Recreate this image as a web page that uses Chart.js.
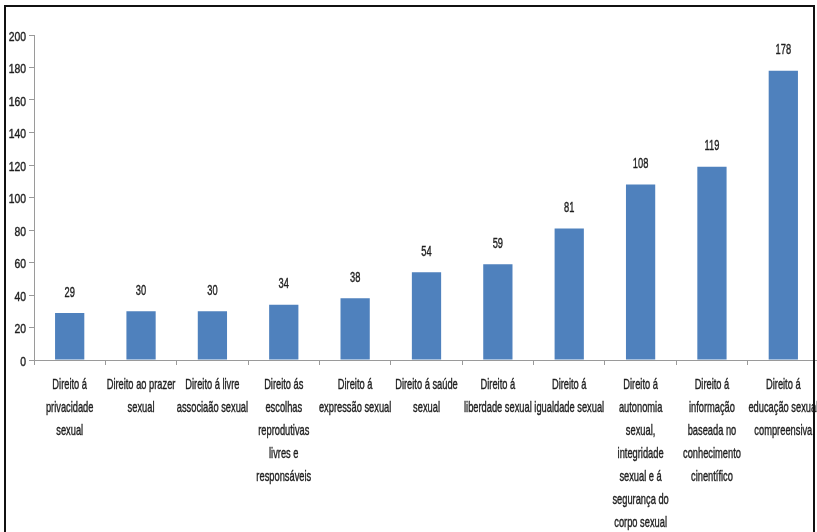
<!DOCTYPE html>
<html>
<head>
<meta charset="utf-8">
<script src="https://cdn.jsdelivr.net/npm/chart.js@4"></script>
<style>
  html, body { margin: 0; padding: 0; background: #fff; overflow: hidden; }
  #wrap { position: relative; width: 817px; height: 532px; overflow: hidden; }
  #frame { position: absolute; left: 4px; top: 5px; width: 807px; height: 540px; border: 2px solid #111; border-bottom: none; }
  #chart { position: absolute; left: 0; top: 0; }
</style>
</head>
<body>
<div id="wrap">
  <canvas id="chart" width="819" height="532"></canvas>
  <div id="frame"></div>
</div>
<script>
const categories = [
  ['Direito á', 'privacidade', 'sexual'],
  ['Direito ao prazer', 'sexual'],
  ['Direito á livre', 'associaão sexual'],
  ['Direito ás', 'escolhas', 'reprodutivas', 'livres e', 'responsáveis'],
  ['Direito á', 'expressão sexual'],
  ['Direito á saúde', 'sexual'],
  ['Direito á', 'liberdade sexual'],
  ['Direito á', 'igualdade sexual'],
  ['Direito á', 'autonomia', 'sexual,', 'integridade', 'sexual e á', 'segurança do', 'corpo sexual'],
  ['Direito á', 'informação', 'baseada no', 'conhecimento', 'cinentífico'],
  ['Direito á', 'educação sexual', 'compreensiva']
];
const values = [29, 30, 30, 34, 38, 54, 59, 81, 108, 119, 178];
const yTicks = [0, 20, 40, 60, 80, 100, 120, 140, 160, 180, 200];

const FONT = "'Liberation Sans', Arial, sans-serif";
const TEXT = '#1e1e1e';
const AXIS = '#9a9a9a';

// the source uses a condensed face, so squeeze the text horizontally
function narrowText(ctx, text, x, y, sx) {
  ctx.save();
  ctx.translate(x, y);
  ctx.scale(sx, 1);
  ctx.strokeText(text, 0, 0);
  ctx.fillText(text, 0, 0);
  ctx.restore();
}

const textLayer = {
  id: 'textLayer',
  afterDraw(chart) {
    const ctx = chart.ctx;
    const xs = chart.scales.x;
    const ys = chart.scales.y;
    const meta = chart.getDatasetMeta(0);
    ctx.save();
    ctx.fillStyle = TEXT;
    ctx.strokeStyle = TEXT;
    ctx.lineWidth = 0.4;

    // y tick labels
    ctx.font = '13px ' + FONT;
    ctx.textAlign = 'right';
    ctx.textBaseline = 'middle';
    yTicks.forEach(v => narrowText(ctx, String(v), 26, ys.getPixelForValue(v) + 2, 0.8));

    // category labels
    ctx.font = '15px ' + FONT;
    ctx.textAlign = 'center';
    categories.forEach((lines, i) => {
      const x = xs.getPixelForValue(i);
      lines.forEach((line, j) => narrowText(ctx, line, x, xs.top + 25 + j * 23, 0.62));
    });

    // value labels above bars
    ctx.font = '15px ' + FONT;
    ctx.textBaseline = 'bottom';
    meta.data.forEach((bar, i) => narrowText(ctx, String(values[i]), bar.x, bar.y - 13, 0.62));
    ctx.restore();
  }
};

new Chart(document.getElementById('chart'), {
  type: 'bar',
  data: {
    labels: categories,
    datasets: [{
      data: values,
      backgroundColor: '#4f81bd',
      borderWidth: 0,
      categoryPercentage: 1,
      barPercentage: 0.41
    }]
  },
  options: {
    responsive: false,
    animation: false,
    layout: { padding: { top: 35, right: 0, left: 0, bottom: 0 } },
    plugins: { legend: { display: false }, tooltip: { enabled: false } },
    scales: {
      x: {
        grid: { display: true, drawOnChartArea: false, tickLength: 5, color: AXIS },
        border: { color: AXIS },
        ticks: { display: false },
        afterFit(scale) { scale.height = 172; }
      },
      y: {
        min: 0, max: 200,
        afterBuildTicks(scale) { scale.ticks = yTicks.map(v => ({ value: v })); },
        grid: { display: true, drawOnChartArea: false, tickLength: 5, color: AXIS },
        border: { color: AXIS },
        ticks: { display: false },
        afterFit(scale) { scale.width = 34; }
      }
    }
  },
  plugins: [textLayer]
});
</script>
</body>
</html>
